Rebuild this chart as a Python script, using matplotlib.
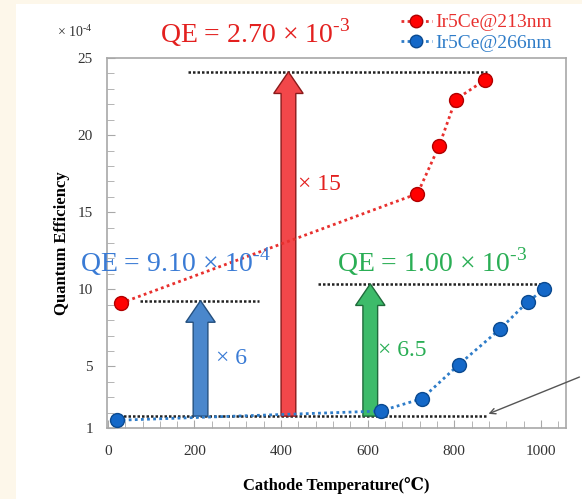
import numpy as np
import matplotlib
matplotlib.use('Agg')
from matplotlib import pyplot as plt
from matplotlib.patches import Rectangle

# data (QE in units of 1e-4)
temp_213 = [30, 715, 765, 803, 872]
qe_213 = [9.1, 16.2, 19.3, 22.3, 23.6]
temp_266 = [20, 630, 725, 810, 905, 970, 1008]
qe_266 = [1.5, 2.1, 2.9, 5.1, 7.4, 9.2, 10.0]

base_level = 1.77
level_266 = 9.26
level_213 = 24.1
level_hot = 10.35

x_ticks = [0, 200, 400, 600, 800, 1000]
y_ticks = [1, 5, 10, 15, 20, 25]

plt.rcParams['font.family'] = ['Liberation Serif', 'DejaVu Serif']
plt.rcParams['mathtext.fontset'] = 'custom'
plt.rcParams['mathtext.rm'] = 'Liberation Serif'

fig = plt.figure(figsize=(5.82, 4.99), dpi=100)
fig.patch.set_facecolor('#fdf7ea')
fig.patches.append(Rectangle((16 / 582, 0), 1, 1 - 4 / 499, transform=fig.transFigure,
                             facecolor='white', edgecolor='none', zorder=-10))

W, H = 582, 499
ax = fig.add_axes([107 / W, 1 - 428 / H, (566 - 107) / W, (428 - 58) / H])
ax.set_facecolor('white')
ax.set_xlim(-2, 1058)
ax.set_ylim(1, 25)

for s in ax.spines.values():
    s.set_color('#a8a8a8')
    s.set_linewidth(1.2)

ax.set_xticks(x_ticks)
ax.set_xticks(np.arange(0, 1060, 40), minor=True)
ax.set_yticks(y_ticks)
ax.set_yticks(np.arange(1, 26, 1), minor=True)
ax.tick_params(which='both', direction='in', color='#a8a8a8', labelcolor='#333333', labelsize=11)
ax.tick_params(which='major', length=6)
ax.tick_params(which='minor', length=5)
ax.tick_params(axis='x', pad=12)
ax.tick_params(axis='y', pad=10)

# horizontal reference lines
dot_kw = dict(color='#222222', linestyle=(0, (1, 0.8)), linewidth=1.8, zorder=2)
ax.plot([25, 875], [base_level, base_level], **dot_kw)
ax.plot([75, 350], [level_266, level_266], **dot_kw)
ax.plot([185, 875], [level_213, level_213], **dot_kw)
ax.plot([485, 1010], [level_hot, level_hot], **dot_kw)

# series
ax.plot(temp_213, qe_213, linestyle=(0, (1, 1.2)), color='#e8302e', linewidth=2,
        marker='o', markersize=10, markerfacecolor='#ff0000', markeredgecolor='#b00000',
        label='Ir5Ce@213nm', zorder=5)
ax.plot(temp_266, qe_266, linestyle=(0, (1, 1.2)), color='#2e7cc8', linewidth=2,
        marker='o', markersize=10, markerfacecolor='#1468c8', markeredgecolor='#0b4a90',
        label='Ir5Ce@266nm', zorder=5)

# fat arrows
arrow_kw = dict(width=34, head_width=68, head_length=1.4, length_includes_head=True,
                linewidth=1.0, zorder=4)
ax.arrow(214, base_level, 0, level_266 - base_level, facecolor='#4a87cc',
         edgecolor='#24507f', **arrow_kw)
ax.arrow(417, base_level, 0, level_213 - base_level, facecolor='#f2474a',
         edgecolor='#8a1a1a', **arrow_kw)
ax.arrow(606, base_level, 0, level_hot - base_level, facecolor='#3dbb6a',
         edgecolor='#1f6b3b', **arrow_kw)

# annotations
red, blue, green = '#e3201f', '#3a7bd5', '#2aae55'
hy = '\u2010'
fig.text(255 / W, 1 - 33 / H, r'QE = 2.70 × 10$^{\mathregular{' + hy + '3}}$', color=red,
         fontsize=20, ha='center', va='center')
fig.text(175 / W, 1 - 262 / H, r'QE = 9.10 × 10$^{\mathregular{' + hy + '4}}$', color=blue,
         fontsize=20, ha='center', va='center')
fig.text(432 / W, 1 - 262 / H, r'QE = 1.00 × 10$^{\mathregular{' + hy + '3}}$', color=green,
         fontsize=20, ha='center', va='center')
fig.text(298 / W, 1 - 185 / H, '× 15', color=red, fontsize=17, ha='left', va='center')
fig.text(216 / W, 1 - 358 / H, '× 6', color=blue, fontsize=17, ha='left', va='center')
fig.text(378 / W, 1 - 350 / H, '× 6.5', color=green, fontsize=17, ha='left', va='center')
fig.text(75 / W, 1 - 32 / H, r'× 10$^{\mathregular{' + hy + '4}}$', color='#333333', fontsize=10,
         ha='center', va='center')

ax.annotate('', xy=(873, 1.85), xycoords='data', xytext=(1.0, 1 - 376 / H),
            textcoords='figure fraction',
            arrowprops=dict(arrowstyle='->', color='#555555', lw=1.0), annotation_clip=False)

ax.set_xlabel('Cathode Temperature(℃)', fontsize=12, fontweight='bold', labelpad=14)
ax.set_ylabel('Quantum Efficiency', fontsize=12, fontweight='bold', labelpad=6)

leg = ax.legend(loc='upper right', bbox_to_anchor=(562 / W, 1 - 4 / H), bbox_transform=fig.transFigure,
                frameon=False, fontsize=14, labelcolor='linecolor', handlelength=1.6,
                handletextpad=0.2, borderpad=0, labelspacing=0.15, markerscale=0.9)

fig.savefig('out.png', dpi=100, facecolor=fig.get_facecolor())
